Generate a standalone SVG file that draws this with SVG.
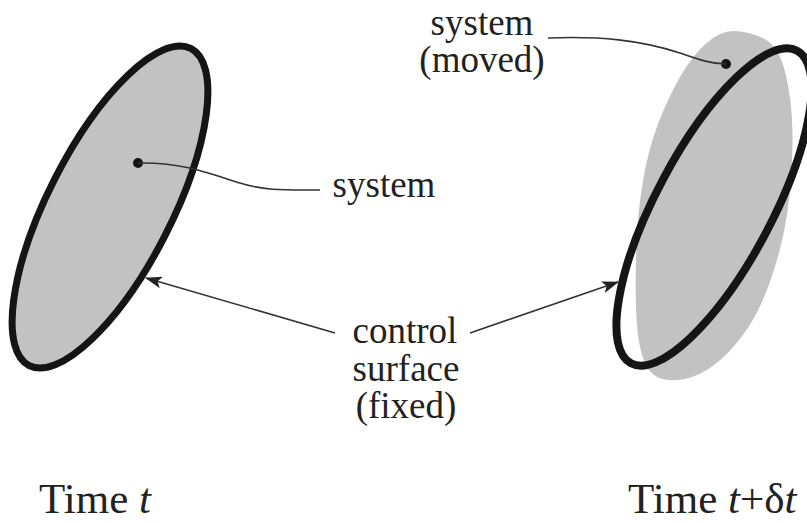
<svg xmlns="http://www.w3.org/2000/svg" width="807" height="523" viewBox="0 0 807 523">
<defs>
<marker id="arr" viewBox="0 0 17 12" refX="16" refY="6" markerWidth="17" markerHeight="12" markerUnits="userSpaceOnUse" orient="auto">
<path d="M0,0 L17,6 L0,12 L4,6 Z" fill="#222"/>
</marker>
</defs>
<style>
.lbl{font-family:"Liberation Serif","Times New Roman",serif;font-size:37px;fill:#222;text-anchor:middle}
.time{font-family:"Liberation Serif","Times New Roman",serif;font-size:43px;fill:#222}
.lead{fill:none;stroke:#333;stroke-width:1.6}
.fill{fill:#c2c2c2}
.outline{fill:none;stroke:#151515}
</style>
<rect width="807" height="523" fill="#fff"/>
<g id="system-t">
<ellipse class="fill" cx="110" cy="207" rx="62" ry="178" transform="rotate(27 110 207)"/>
<ellipse class="outline" stroke-width="7" cx="110" cy="207" rx="62" ry="178" transform="rotate(27 110 207)"/>
<circle cx="138" cy="163" r="5" fill="#151515"/>
</g>
<g id="system-moved">
<path class="fill" d="M733.5,31 Q747,31 763,38 Q779,46 785.5,73.5 Q792,100 792.5,133.5 Q793,167 789,200 Q785,235 774.5,268 Q764,302 751,323 Q738,344 722.5,358 Q707,372 692,377 Q677,382 664.5,379.5 Q651,377 645,363 Q639,350 637,325 Q635,300 636,258.5 Q637,217 642.5,183.5 Q648,150 658,124 Q668,98 680,77 Q692,56 706,43.5 Q720,31 733.5,31 Z"/>
<ellipse class="outline" stroke-width="8" cx="714" cy="207" rx="58" ry="177" transform="rotate(28 714 207)"/>
<circle cx="726" cy="64" r="5" fill="#151515"/>
</g>
<g id="connectors">
<path class="lead" d="M138,163 C180,162 205,172 240,183 C265,191 285,190 320,190"/>
<path class="lead" d="M548,38 C600,36 640,40 680,53 C700,60 712,64 726,64"/>
<path class="lead" d="M335,333 L146,278" marker-end="url(#arr)"/>
<path class="lead" d="M470,333 L618,282" marker-end="url(#arr)"/>
</g>
<g id="labels">
<text class="lbl" x="384" y="197">system</text>
<text class="lbl" x="482" y="35">system</text>
<text class="lbl" x="482" y="72">(moved)</text>
<text class="lbl" x="405" y="343">control</text>
<text class="lbl" x="406" y="381">surface</text>
<text class="lbl" x="406" y="418">(fixed)</text>
<text class="time" x="39" y="513">Time <tspan font-style="italic">t</tspan></text>
<text class="time" x="628" y="513">Time <tspan font-style="italic">t</tspan>+δ<tspan font-style="italic">t</tspan></text>
</g>
</svg>
